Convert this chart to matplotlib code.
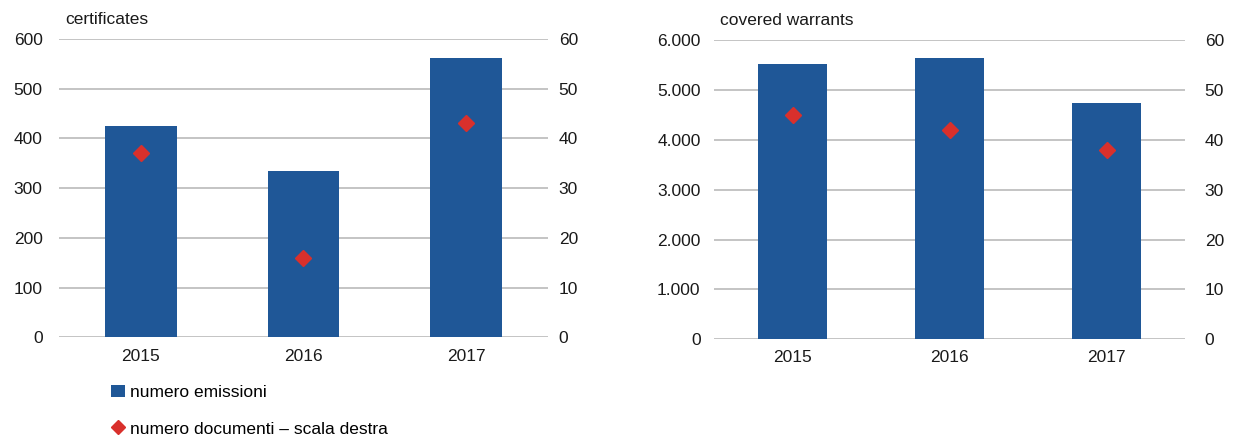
import matplotlib.pyplot as plt
from matplotlib.lines import Line2D
from matplotlib.patches import Patch
from matplotlib.ticker import FuncFormatter

plt.rcParams['font.family'] = ['Liberation Sans', 'DejaVu Sans']

# --- data ---
years = ['2015', '2016', '2017']
cert_emissioni = [424, 334, 561]
cert_documenti = [37, 16, 43]
cw_emissioni = [5520, 5640, 4735]
cw_documenti = [45, 42, 38]

bar_color = '#1f5797'
dot_color = '#d9302c'
grid_color = '#c4c4c4'
text_color = '#1a1a1a'


def thousands(v, pos):
    return f'{int(v):,}'.replace(',', '.')


def panel(rect, bars, dots, title, ymax, step, fmt=None, lpad=10, rpad=8):
    ax = fig.add_axes(rect)
    x = range(len(years))
    ax.bar(x, bars, width=0.44, color=bar_color, zorder=3)
    ax.set_xlim(-0.5, len(years) - 0.5)
    ax.set_ylim(0, ymax)
    ax.set_yticks(range(0, ymax + 1, step))
    if fmt:
        ax.yaxis.set_major_formatter(FuncFormatter(fmt))
    ax.set_xticks(list(x))
    ax.set_xticklabels(years)
    ax.yaxis.grid(True, color=grid_color, linewidth=1.4, zorder=0)
    for s in ax.spines.values():
        s.set_visible(False)
    ax.tick_params(axis='both', length=0, labelsize=12.5, colors=text_color)
    ax.tick_params(axis='y', pad=lpad)
    ax.tick_params(axis='x', pad=8)

    ax2 = ax.twinx()
    ax2.plot(x, dots, linestyle='none', marker='D', markersize=8,
             color=dot_color, zorder=4)
    ax2.set_ylim(0, 60)
    ax2.set_yticks(range(0, 61, 10))
    for s in ax2.spines.values():
        s.set_visible(False)
    ax2.tick_params(axis='y', length=0, labelsize=12.5, colors=text_color, pad=rpad)
    ax.text(0.012, 1.04, title, transform=ax.transAxes, fontsize=12.5,
            color=text_color, ha='left', va='bottom')
    return ax


fig = plt.figure(figsize=(12.36, 4.36), dpi=100)

panel([0.048, 0.226, 0.395, 0.685], cert_emissioni, cert_documenti,
      'certificates', 600, 100, lpad=12, rpad=8)
panel([0.578, 0.222, 0.381, 0.686], cw_emissioni, cw_documenti,
      'covered warrants', 6000, 1000, fmt=thousands, lpad=10, rpad=14)

handles = [Patch(facecolor=bar_color, edgecolor='none'),
           Line2D([], [], linestyle='none', marker='D', markersize=7, color=dot_color)]
labels = ['numero emissioni', 'numero documenti \u2013 scala destra']
fig.legend(handles, labels, loc='upper left', bbox_to_anchor=(0.083, 0.138),
           frameon=False, fontsize=12.5, handlelength=0.8, handletextpad=0.3,
           labelspacing=1.25, borderpad=0)

fig.savefig('out.png', dpi=100)
